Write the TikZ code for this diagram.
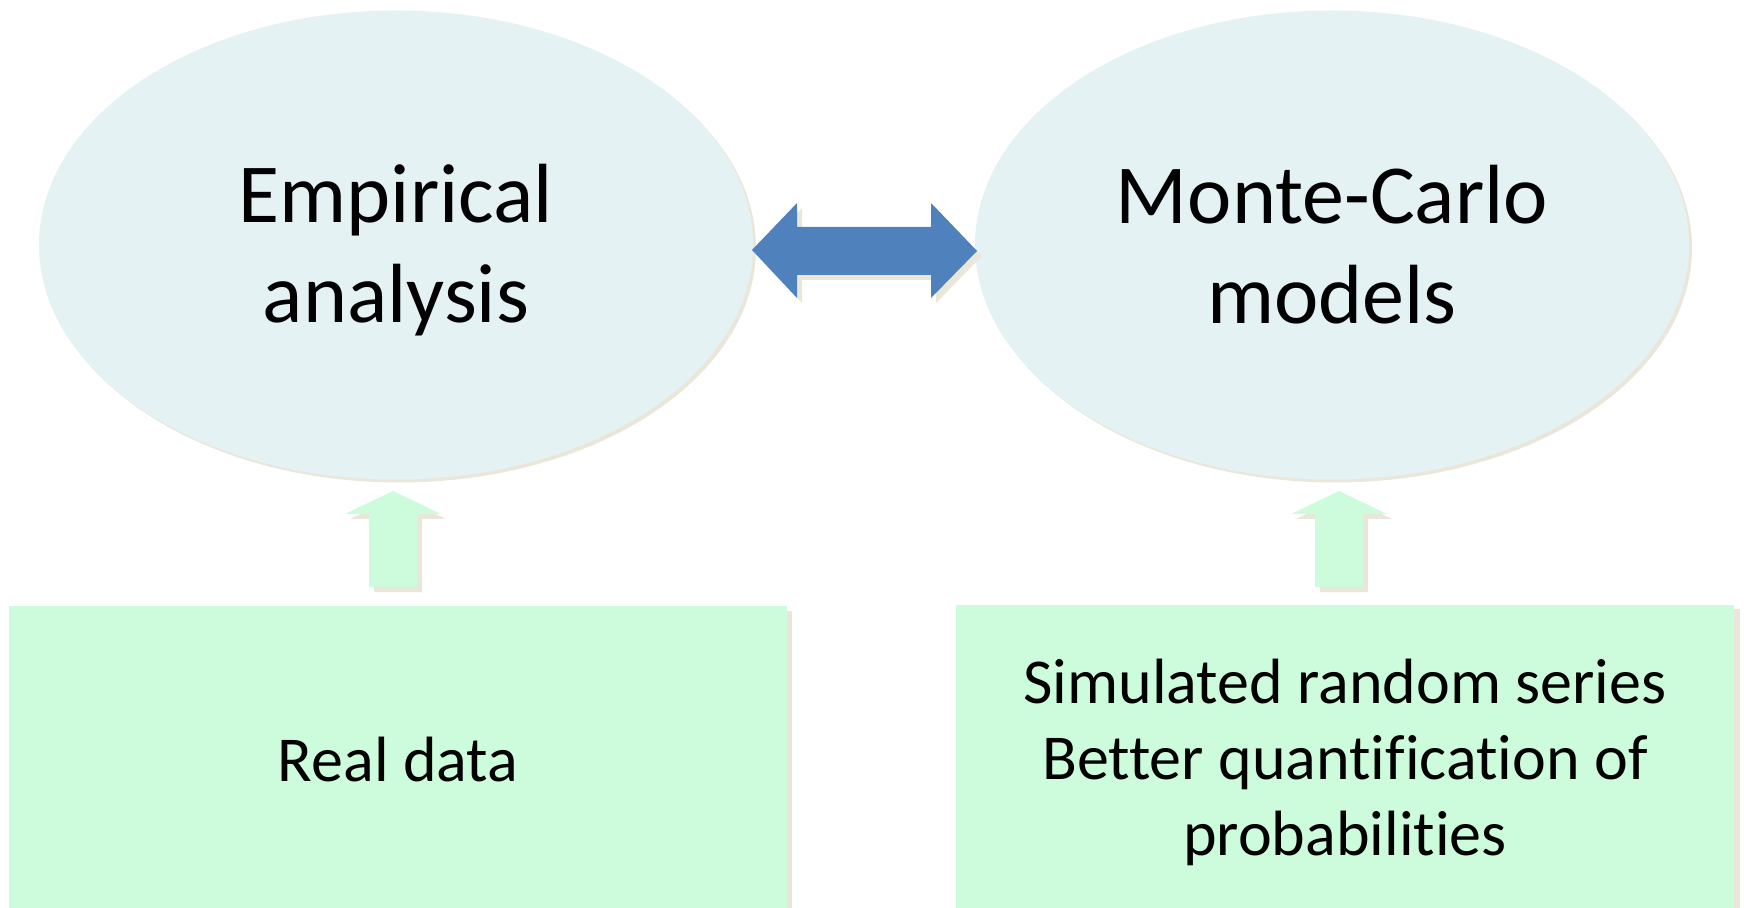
\documentclass[tikz,border=0pt]{standalone}
\usepackage{fontspec}
\setmainfont{Carlito}[Ligatures={NoCommon}]
\usepackage{tikz}
\usetikzlibrary{shapes.geometric}

\definecolor{ovalfill}{HTML}{E4F2F4}
\definecolor{boxfill}{HTML}{CCFCDC}
\definecolor{arrowblue}{HTML}{4F81BD}
\definecolor{shadowtan}{HTML}{EAE7DA}

\begin{document}
\begin{tikzpicture}[x=0.5pt, y=-0.5pt,
  oval/.style={ellipse, fill=ovalfill, minimum width=357pt, minimum height=234.5pt, inner sep=0pt},
  databox/.style={rectangle, fill=boxfill, minimum width=389pt, minimum height=151.5pt, inner sep=0pt},
  bigtext/.style={align=center, inner sep=0pt, font=\fontsize{42}{50}\selectfont},
  smalltext/.style={align=center, inner sep=0pt, font=\fontsize{32}{37.8}\selectfont},
  shade/.style={fill=shadowtan}]
\useasboundingbox (0,0) rectangle (1744,908);

% shadows
\fill[shade] (399,248) ellipse [x radius=357, y radius=234.5];
\fill[shade] (1335,248) ellipse [x radius=357, y radius=234.5];
\fill[shade] (14,611) rectangle (792,908);
\fill[shade] (961,609) rectangle (1740,908);

\node[oval, anchor=center] (emp) at (396,245) {};
\node[oval, anchor=center] (mc) at (1332,245) {};
\node[databox, anchor=center] (real) at (398,757) {};
\node[databox, anchor=center] (sim) at (1345,756) {};

\node[bigtext, anchor=center] (empText) at (396,250.5) {Empirical\\analysis};
\node[bigtext, anchor=center] (mcText) at (1332,245) {Monte-Carlo\\models};
\node[smalltext, anchor=center] (realText) at (398,759.5) {Real data};
\node[smalltext, anchor=center] (simText) at (1345,762.5) {Simulated random series\\Better quantification of\\probabilities};

% double arrow
\fill[shade, shift={(5,5)}] (752,250) -- (797,203) -- (797,227) -- (931,227) -- (931,203) -- (977,251) -- (931,298) -- (931,275) -- (797,275) -- (797,298) -- cycle;
\fill[arrowblue] (752,250) -- (797,203) -- (797,227) -- (931,227) -- (931,203) -- (977,251) -- (931,298) -- (931,275) -- (797,275) -- (797,298) -- cycle;

% up arrows
\fill[shade, shift={(5,5)}] (393,491) -- (441,514) -- (417,514) -- (417,587) -- (369,587) -- (369,514) -- (345,514) -- cycle;
\fill[boxfill] (393,491) -- (441,514) -- (417,514) -- (417,587) -- (369,587) -- (369,514) -- (345,514) -- cycle;
\fill[shade, shift={(951,5)}] (393,491) -- (441,514) -- (417,514) -- (417,587) -- (369,587) -- (369,514) -- (345,514) -- cycle;
\fill[boxfill, shift={(946,0)}] (393,491) -- (441,514) -- (417,514) -- (417,587) -- (369,587) -- (369,514) -- (345,514) -- cycle;
\end{tikzpicture}
\end{document}
